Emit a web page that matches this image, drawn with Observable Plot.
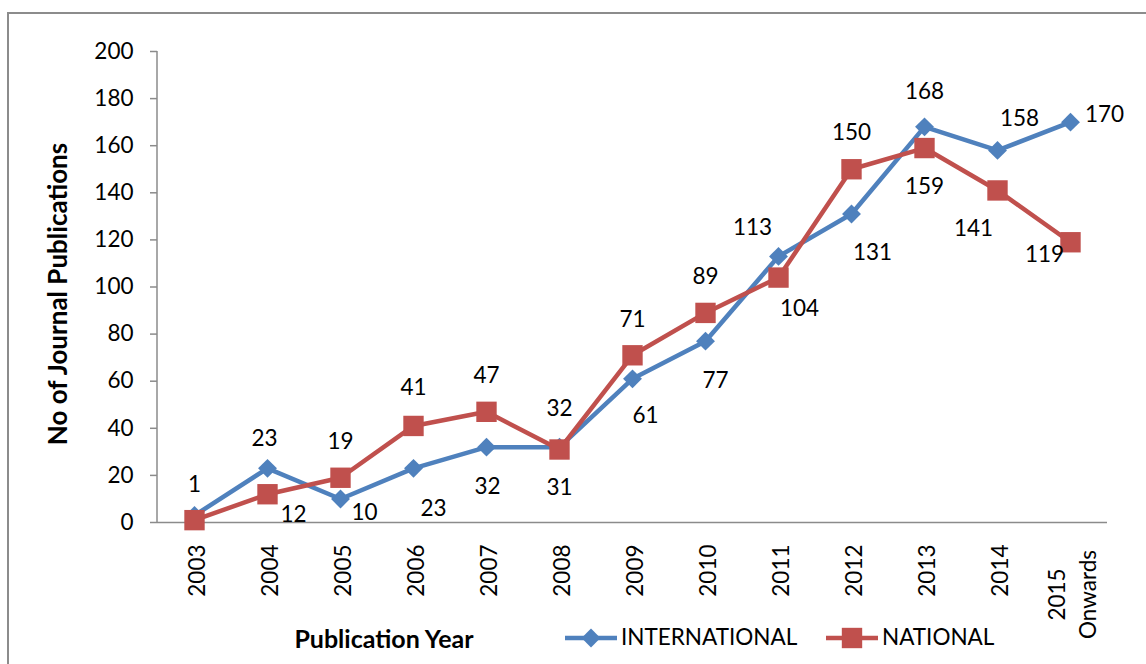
<!DOCTYPE html>
<html><head><meta charset="utf-8">
<script src="https://cdn.jsdelivr.net/npm/d3@7"></script>
<script src="https://cdn.jsdelivr.net/npm/@observablehq/plot@0.6"></script>
<style>
body{margin:0;background:#fff;font-family:Lato,"Open Sans",sans-serif}
#wrap{position:relative;width:1146px;height:664px;overflow:hidden;background:#fff}
#border{position:absolute;left:7px;top:12px;width:1300px;height:800px;border-left:2px solid #8c8c8c;border-top:2px solid #8c8c8c;box-sizing:border-box}
#wrap svg{position:absolute;left:0;top:0}
</style></head><body><div id="wrap"><div id="border"></div></div>
<script>
// ---- data ----
const years = ["2003","2004","2005","2006","2007","2008","2009","2010","2011","2012","2013","2014","2015\nOnwards"];
const international = [3,23,10,23,32,32,61,77,113,131,168,158,170];
const national = [1,12,19,41,47,31,71,89,104,150,159,141,119];
const yTicks = [0,20,40,60,80,100,120,140,160,180,200];
const seriesNames = ["INTERNATIONAL","NATIONAL"];
const xTitle = "Publication Year";
const yTitle = "No of Journal Publications";

// label placement (pixel offsets from the marker), styling only
const intlLabelOffsets = [null,[-3,-30],[24,14],[20,40],[1,40],[0,-38],[13,37],[10,40],[-26,-29],[21,39],[0,-35],[22,-32],[34,-7]];
const natLabelOffsets  = [[0,-35],[26,21],[0,-36],[0,-38],[0,-36],[0,38],[0,-35],[0,-36],[21,31],[0,-36],[0,39],[-24,38],[-26,13]];

const BLUE = "#4F81BD", RED = "#C0504D", GRAY = "#8b8b8b";

const intlRows = years.map((y,i)=>({year:y, value:international[i], off:intlLabelOffsets[i]}));
const natRows  = years.map((y,i)=>({year:y, value:national[i], off:natLabelOffsets[i]}));

function labelMarks(rows){
  return rows.filter(d=>d.off).map(d=>Plot.text([d],{x:"year",y:"value",text:d=>String(d.value),dx:d.off[0],dy:d.off[1],fontSize:22.5,fill:"#000",lineAnchor:"middle"}));
}

const plot = Plot.plot({
  width:1146, height:664,
  marginLeft:157, marginRight:39, marginTop:51, marginBottom:142,
  style:{fontFamily:"Lato, 'Open Sans', sans-serif", background:"transparent", overflow:"visible"},
  x:{type:"point", domain:years, padding:0.5},
  y:{domain:[0,200]},
  marks:[
    Plot.ruleY([0],{stroke:GRAY,strokeWidth:1.5}),
    Plot.axisY({ticks:yTicks, tickSize:7, tickPadding:17, fontSize:22.5, stroke:GRAY, strokeWidth:1.5, label:null, fill:"#000"}),
    Plot.axisX({tickSize:0, tickPadding:22, tickRotate:-90, fontSize:22.5, label:null, lineHeight:1.4, fill:"#000"}),
    Plot.line(intlRows,{x:"year",y:"value",stroke:BLUE,strokeWidth:4.5}),
    Plot.dot(intlRows,{x:"year",y:"value",symbol:"diamond2",r:8.5,fill:BLUE,stroke:null}),
    Plot.line(natRows,{x:"year",y:"value",stroke:RED,strokeWidth:4.5}),
    Plot.dot(natRows,{x:"year",y:"value",symbol:"square",r:11.5,fill:RED,stroke:null}),
    ...labelMarks(intlRows),
    ...labelMarks(natRows)
  ]
});

const svg = d3.select(plot);
const ys = plot.scale("y");
const x0 = 157;
// y axis line
svg.append("line").attr("x1",x0).attr("x2",x0).attr("y1",ys.apply(0)).attr("y2",ys.apply(200)).attr("stroke",GRAY).attr("stroke-width",1.5);

// adjust multi-line tick label (centered block)
svg.selectAll('g[aria-label="x-axis tick label"] text').each(function(){
  const t = d3.select(this);
  if (t.selectAll("tspan").size() > 1) {
    const tr = t.attr("transform");
    const m = /translate\(([^,]+),([^)]+)\)/.exec(tr);
    if (m) {
      t.attr("transform", tr.replace(m[0], `translate(${m[1]},${+m[2]+50})`));
    }
    t.attr("text-anchor","middle");
  }
});

// axis titles
svg.append("text").attr("x",384).attr("y",642).attr("text-anchor","middle").attr("dominant-baseline","middle")
  .attr("font-size",25).attr("font-weight","bold").attr("fill","#000").text(xTitle);
svg.append("text").attr("transform",`translate(60,294) rotate(-90)`).attr("text-anchor","middle").attr("dominant-baseline","middle")
  .attr("font-size",26).attr("font-weight","bold").attr("fill","#000").text(yTitle);

// legend
const lg = svg.append("g").attr("font-size",22.5).attr("text-anchor","start");
const items = [{name:seriesNames[0],color:BLUE,sym:d3.symbolDiamond2,size:Math.PI*8.5*8.5,x:565},{name:seriesNames[1],color:RED,sym:d3.symbolSquare,size:Math.PI*11.5*11.5,x:826}];
items.forEach(it=>{
  lg.append("line").attr("x1",it.x).attr("x2",it.x+52).attr("y1",638).attr("y2",638).attr("stroke",it.color).attr("stroke-width",4.5);
  lg.append("path").attr("d",d3.symbol(it.sym,it.size)()).attr("transform",`translate(${it.x+26},638)`).attr("fill",it.color);
  lg.append("text").attr("x",it.x+56).attr("y",639).attr("text-anchor","start").attr("dominant-baseline","middle").attr("fill","#000").text(it.name);
});

document.getElementById("wrap").appendChild(plot);
</script></body></html>
